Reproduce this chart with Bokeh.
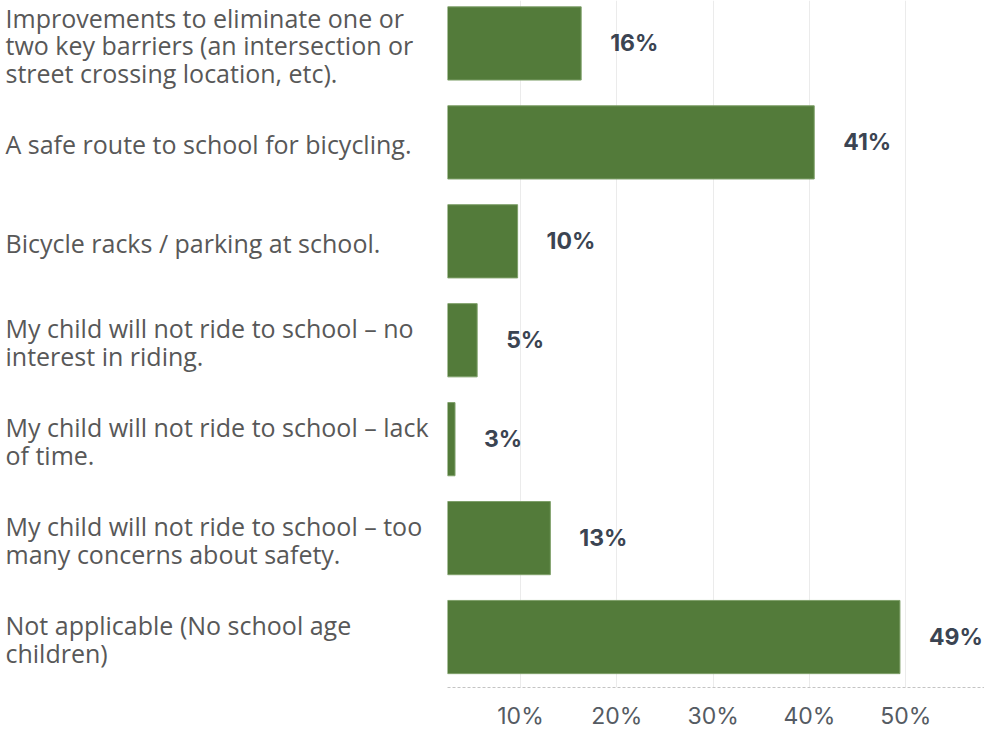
from bokeh.plotting import figure
from bokeh.layouts import row
from bokeh.models import ColumnDataSource, Range1d, FixedTicker
from bokeh.embed import file_html
from bokeh.resources import INLINE
from bokeh.core.properties import value

categories = [
    "Improvements to eliminate one or\ntwo key barriers (an intersection or\nstreet crossing location, etc).",
    "A safe route to school for bicycling.",
    "Bicycle racks / parking at school.",
    "My child will not ride to school \u2013 no\ninterest in riding.",
    "My child will not ride to school \u2013 lack\nof time.",
    "My child will not ride to school \u2013 too\nmany concerns about safety.",
    "Not applicable (No school age\nchildren)",
]
values = [16.3, 40.5, 9.7, 5.5, 3.2, 13.1, 49.4]
value_labels = ["16%", "41%", "10%", "5%", "3%", "13%", "49%"]
tick_values = [10, 20, 30, 40, 50, 60]
tick_labels = ["10%", "20%", "30%", "40%", "50%", "60%"]

src = ColumnDataSource(dict(
    y=list(range(len(categories))),
    cat=categories,
    value=values,
    vlabel=value_labels,
))

H = 732
LW = 447
RW = 984 - LW
y_range = Range1d(6.51, -0.434)

# label panel
lp = figure(width=LW, height=H, output_backend="svg", toolbar_location=None,
            x_range=Range1d(0, LW), y_range=y_range)
lp.min_border_left = 0
lp.min_border_right = 0
lp.min_border_top = 0
lp.min_border_bottom = 44
lp.outline_line_color = None
lp.axis.visible = False
lp.grid.grid_line_color = None
lp.text(x=5, y="y", text="cat", source=src, y_offset=2,
        text_align="left", text_baseline="middle",
        text_font=value("Open Sans"), text_font_size="25px",
        text_color="#585858", text_line_height=0.82)

# bar panel
p = figure(width=RW, height=H, output_backend="svg", toolbar_location=None,
           x_range=Range1d(2.42, 58.18), y_range=y_range)
p.min_border_left = 0
p.min_border_right = 0
p.min_border_top = 0
p.min_border_bottom = 44
p.outline_line_color = None
p.background_fill_color = "white"
p.border_fill_color = "white"

p.hbar(y="y", left=0, right="value", height=0.74, source=src,
       fill_color="#537B3A", line_color="#7fa06a", line_width=1)

p.text(x="value", y="y", text="vlabel", source=src, x_offset=29,
       text_align="left", text_baseline="middle",
       text_font=value("Inter"), text_font_style="bold",
       text_font_size="23px", text_color="#3b4452")

ticker = FixedTicker(ticks=tick_values)
p.xaxis.ticker = ticker
p.xaxis.major_label_overrides = {t: l for t, l in zip(tick_values, tick_labels)}
p.xaxis.major_tick_line_color = None
p.xaxis.minor_tick_line_color = None
p.xaxis.major_tick_out = 0
p.xaxis.minor_tick_out = 0
p.xaxis.major_label_standoff = 14
p.xaxis.major_label_text_font = "Inter"
p.xaxis.major_label_text_font_size = "23px"
p.xaxis.major_label_text_color = "#555b63"
p.xaxis.axis_line_color = "#c4c4c4"
p.xaxis.axis_line_dash = "3 2"
p.yaxis.visible = False

p.xgrid.ticker = ticker
p.xgrid.grid_line_color = "#ebebeb"
p.ygrid.grid_line_color = None

layout = row(lp, p)
open("out.html", "w").write(file_html(layout, INLINE))
